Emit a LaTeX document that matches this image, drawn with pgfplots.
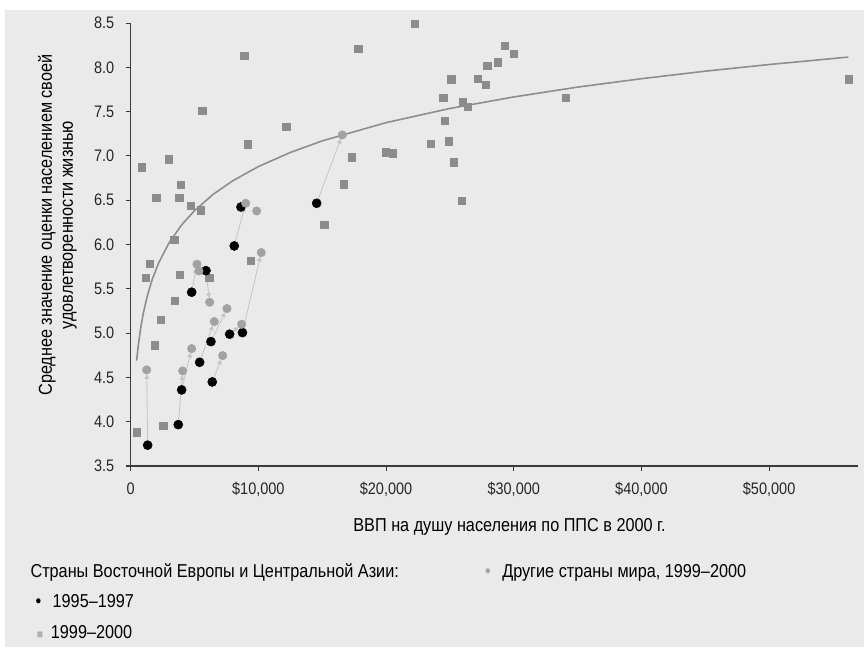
\documentclass[border=0pt]{standalone}
\usepackage{fontspec}
\setmainfont{Liberation Sans}[FakeStretch=0.87]
\usepackage{pgfplots}
\pgfplotsset{compat=1.18}
\usetikzlibrary{arrows.meta}
\definecolor{bg}{HTML}{EAEAEA}
\definecolor{sq}{HTML}{8C8C8C}
\definecolor{gc}{HTML}{A2A2A2}
\definecolor{ln}{HTML}{C4C4C4}
\definecolor{tr}{HTML}{8E8E8E}
\definecolor{ax}{HTML}{3A3A3A}
\newcommand\tfont{\fontsize{12.5}{14}\selectfont}
\newcommand\lfont{\fontsize{14}{15.75}\selectfont}
\begin{document}
\begin{tikzpicture}
\useasboundingbox (-98pt,-135.75pt) rectangle (550pt,349.5pt);
\fill[bg] (-94.25pt,-135.75pt) rectangle (550pt,342pt);
\begin{axis}[at={(0,0)}, anchor=south west, scale only axis,
  width=545.7pt, height=332.2pt,
  xmin=0, xmax=56980, ymin=3.5, ymax=8.5, clip=false,
  scaled x ticks=false,
  axis x line*=bottom, axis y line*=left,
  axis line style={ax, line width=0.9pt},
  xtick={0,10000,20000,30000,40000,50000},
  xticklabels={0,{\$10,000},{\$20,000},{\$30,000},{\$40,000},{\$50,000}},
  ytick={3.5,4,4.5,5,5.5,6,6.5,7,7.5,8,8.5},
  yticklabels={3.5,4.0,4.5,5.0,5.5,6.0,6.5,7.0,7.5,8.0,8.5},
  tick align=outside, major tick length=3.75pt,
  tick style={ax, line width=0.8pt},
  xticklabel style={font=\tfont, text=black!85, yshift=-5pt},
  yticklabel style={font=\tfont, text=black!85, xshift=-5pt},
  xlabel={ВВП на душу населения по ППС в 2000 г.},
  xlabel style={font=\lfont, at={(axis description cs:0.5207,-0.137)}, anchor=center},
  ylabel={Среднее значение оценки населением своей\\удовлетворенности жизнью},
  ylabel style={font=\lfont, align=center, at={(axis description cs:-0.1006,0.544)}, anchor=center},
]
% trend line
\addplot[tr, line width=1.2pt] coordinates {
(470,4.690) (600,4.865) (800,5.071) (1000,5.231) (1300,5.419) (1700,5.611)
(2200,5.795) (3000,6.018) (4000,6.223) (5000,6.383) (6500,6.571) (8000,6.720)
(10000,6.880) (12500,7.039) (15000,7.170) (20000,7.376) (25000,7.536)
(30000,7.666) (35000,7.777) (40000,7.872) (45000,7.957) (50000,8.032) (56200,8.116)};
% other countries (squares)
\addplot[only marks, mark=square*, mark size=2.8pt, mark options={fill=sq, draw=sq}] coordinates {
(5607,7.511) (9186,7.132) (2999,6.963) (885,6.872) (3916,6.676) (2005,6.529)
(3806,6.529) (4699,6.439) (5482,6.387) (3414,6.052) (1488,5.781) (1198,5.626)
(3861,5.657) (3469,5.367) (2349,5.149) (1879,4.863) (493,3.882) (2553,3.953)
(8896,8.129) (12185,7.327) (17823,8.208) (17330,6.985) (16704,6.681) (15161,6.221)
(19969,7.042) (20517,7.031) (9397,5.815) (6155,5.626) (22240,8.493) (29288,8.245)
(29993,8.151) (27925,8.019) (28763,8.058) (25106,7.866) (27197,7.872) (27823,7.801)
(24480,7.655) (26022,7.606) (26414,7.556) (34088,7.655) (24613,7.395) (23493,7.135)
(24903,7.166) (25294,6.929) (25944,6.492) (56250,7.866)};
% connecting lines 1995-97 -> 1999-2000
\addplot[ln, line width=0.6pt, -{Triangle[length=3.5pt,width=3.5pt]}, shorten >=3.2pt] coordinates {(1331,3.735) (1253,4.585)};
\addplot[ln, line width=0.6pt, -{Triangle[length=3.5pt,width=3.5pt]}, shorten >=3.2pt] coordinates {(3728,3.967) (4072,4.573)};
\addplot[ln, line width=0.6pt, -{Triangle[length=3.5pt,width=3.5pt]}, shorten >=3.2pt] coordinates {(3994,4.359) (4777,4.825)};
\addplot[ln, line width=0.6pt, -{Triangle[length=3.5pt,width=3.5pt]}, shorten >=3.2pt] coordinates {(5403,4.671) (6547,5.130)};
\addplot[ln, line width=0.6pt, -{Triangle[length=3.5pt,width=3.5pt]}, shorten >=3.2pt] coordinates {(6390,4.449) (7205,4.746)};
\addplot[ln, line width=0.6pt, -{Triangle[length=3.5pt,width=3.5pt]}, shorten >=3.2pt] coordinates {(6288,4.904) (7541,5.277)};
\addplot[ln, line width=0.6pt, -{Triangle[length=3.5pt,width=3.5pt]}, shorten >=3.2pt] coordinates {(7753,4.988) (8692,5.100)};
\addplot[ln, line width=0.6pt, -{Triangle[length=3.5pt,width=3.5pt]}, shorten >=3.2pt] coordinates {(8755,5.006) (10227,5.909)};
\addplot[ln, line width=0.6pt, -{Triangle[length=3.5pt,width=3.5pt]}, shorten >=3.2pt] coordinates {(4777,5.462) (5192,5.778)};
\addplot[ln, line width=0.6pt, -{Triangle[length=3.5pt,width=3.5pt]}, shorten >=3.2pt] coordinates {(5897,5.705) (6186,5.349)};
\addplot[ln, line width=0.6pt, -{Triangle[length=3.5pt,width=3.5pt]}, shorten >=3.2pt] coordinates {(8113,5.984) (9006,6.466)};
\addplot[ln, line width=0.6pt, -{Triangle[length=3.5pt,width=3.5pt]}, shorten >=3.2pt] coordinates {(14566,6.466) (16571,7.237)};
% ECA 1995-1997
\addplot[only marks, mark=*, mark size=3.4pt, mark options={fill=black, draw=black}] coordinates {
(1331,3.735) (3728,3.967) (3994,4.359) (5403,4.671) (6390,4.449) (6288,4.904)
(7753,4.988) (8755,5.006) (4777,5.462) (5897,5.705) (8113,5.984) (8638,6.424) (14566,6.466)};
% ECA 1999-2000
\addplot[only marks, mark=*, mark size=3.15pt, mark options={fill=gc, draw=gc}] coordinates {
(1253,4.585) (4072,4.573) (4777,4.825) (7205,4.746) (7541,5.277) (6547,5.130)
(6186,5.349) (8692,5.100) (10227,5.909) (5192,5.778) (5349,5.702) (9006,6.466)
(9867,6.379) (16571,7.237)};
\end{axis}
% legend
\node[anchor=base west, font=\lfont, inner sep=0pt] at (-75.3pt,-83.25pt) {Страны Восточной Европы и Центральной Азии:};
\node[anchor=base, font=\lfont, inner sep=0pt, text=gc] at (268pt,-83.25pt) {•};
\node[anchor=base west, font=\lfont, inner sep=0pt] at (278.5pt,-83.25pt) {Другие страны мира, 1999–2000};
\node[anchor=base, font=\lfont, inner sep=0pt] at (-69.1pt,-106.1pt) {•};
\node[anchor=base west, font=\lfont, inner sep=0pt] at (-58.7pt,-106.1pt) {1995–1997};
\node[anchor=base, font=\fontsize{9}{10}\selectfont, inner sep=0pt, text=gc!85] at (-68pt,-129pt) {■};
\node[anchor=base west, font=\lfont, inner sep=0pt] at (-60pt,-129pt) {1999–2000};
\end{tikzpicture}
\end{document}
